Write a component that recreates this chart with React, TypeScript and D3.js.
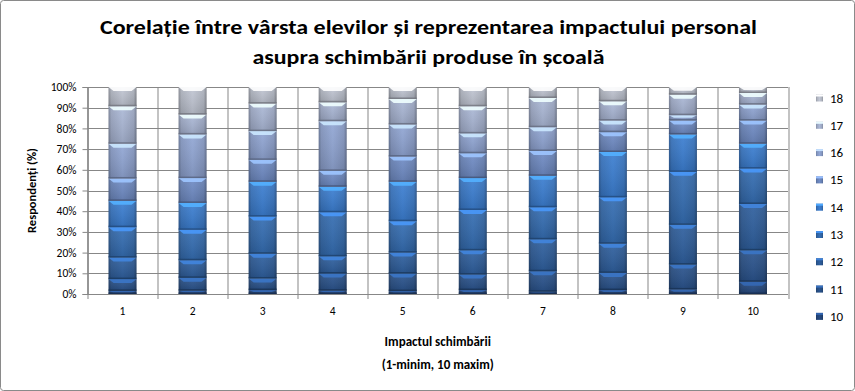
import React, { useEffect, useRef } from 'react';
import * as d3 from 'd3';

// impact levels (x axis)
const categories = ['1', '2', '3', '4', '5', '6', '7', '8', '9', '10'];
// pupils' age groups (stacked series, bottom to top)
const ages = ['10', '11', '12', '13', '14', '15', '16', '17', '18'];

// share of respondents per age, for impact 1..10 (%)
const age10 = [1.5, 1.6, 1.9, 1.6, 1.4, 1.9, 1.1, 1.9, 2.2, 5.9];
const age11 = [5.7, 6.2, 5.6, 8.3, 8.5, 7.5, 9.9, 8.3, 12, 15.2];
const age12 = [10.4, 8.5, 12, 8.3, 10.1, 11.7, 15.4, 14.1, 19.2, 22.4];
const age13 = [14.7, 14.7, 17.9, 21.3, 15.2, 19.5, 15.5, 22.4, 25.6, 17.1];
const age14 = [12.7, 13, 16.8, 12.3, 19, 15.4, 15.2, 21.9, 18.1, 12];
const age15 = [10.8, 12, 10.6, 7.7, 12.2, 12, 12, 9.6, 6.7, 11.2];
const age16 = [16.8, 21.1, 13.9, 24, 15.5, 9.6, 11.5, 5.6, 2.6, 7.7];
const age17 = [18.1, 9.6, 13.3, 9.1, 12.3, 13.1, 14.1, 9.3, 9.9, 5.6];
const age18 = [9.3, 13.3, 8, 7.4, 5.8, 9.3, 5.3, 6.9, 3.7, 2.9];

const seriesValues = [age10, age11, age12, age13, age14, age15, age16, age17, age18];

const colors = ['#23467a', '#284f86', '#2c5a96', '#3167a9', '#3877c6', '#6a85bb', '#899dc9', '#a2aecb', '#b7bcc8'];

const App = () => {
  const ref = useRef<SVGSVGElement>(null);

  useEffect(() => {
    const width = 855;
    const height = 391;
    const margin = { top: 87, left: 87.5, right: 67, bottom: 97 };
    const innerW = width - margin.left - margin.right;
    const innerH = height - margin.top - margin.bottom;

    const rows = categories.map((c, i) => {
      const r: any = { cat: c };
      ages.forEach((a, j) => { r[a] = seriesValues[j][i]; });
      return r;
    });
    const stacked = d3.stack<any>().keys(ages).offset(d3.stackOffsetExpand)(rows);

    const x = d3.scaleBand().domain(categories).range([0, innerW]).paddingInner(0.6).paddingOuter(0.3);
    const y = d3.scaleLinear().domain([0, 1]).range([innerH, 0]);

    const svg = d3.select(ref.current);
    svg.selectAll('*').remove();
    svg.attr('width', width).attr('height', height);

    const defs = svg.append('defs');
    colors.forEach((c, i) => {
      const base = d3.color(c)!;
      const g = defs.append('linearGradient').attr('id', 'grad' + i).attr('x1', 0).attr('x2', 1).attr('y1', 0).attr('y2', 0);
      g.append('stop').attr('offset', '0%').attr('stop-color', base.darker(0.9).toString());
      g.append('stop').attr('offset', '10%').attr('stop-color', base.darker(0.2).toString());
      g.append('stop').attr('offset', '50%').attr('stop-color', base.brighter(0.15).toString());
      g.append('stop').attr('offset', '90%').attr('stop-color', base.darker(0.2).toString());
      g.append('stop').attr('offset', '100%').attr('stop-color', base.darker(1.1).toString());
    });
    const vg = defs.append('linearGradient').attr('id', 'shade').attr('x1', 0).attr('x2', 0).attr('y1', 0).attr('y2', 1);
    vg.append('stop').attr('offset', '0%').attr('stop-color', '#fff').attr('stop-opacity', 0.08);
    vg.append('stop').attr('offset', '100%').attr('stop-color', '#000').attr('stop-opacity', 0.12);

    // chart border
    svg.append('rect').attr('x', 0.5).attr('y', 0.5).attr('width', width - 1).attr('height', height - 1)
      .attr('rx', 3).attr('fill', '#fff').attr('stroke', '#8a8a8a');

    // title
    const title = svg.append('g').attr('font-family', 'Carlito, "Liberation Sans Narrow", "Liberation Sans", sans-serif')
      .attr('font-weight', 'bold').attr('font-size', 21).attr('text-anchor', 'middle').attr('fill', '#000');
    title.append('text').attr('x', 428.5).attr('y', 34).attr('textLength', 657).attr('lengthAdjust', 'spacingAndGlyphs')
      .text('Corelație între vârsta elevilor și reprezentarea impactului personal');
    title.append('text').attr('x', 428.5).attr('y', 64).attr('textLength', 352).attr('lengthAdjust', 'spacingAndGlyphs')
      .text('asupra schimbării produse în școală');

    const g = svg.append('g').attr('transform', `translate(${margin.left},${margin.top})`);

    // horizontal gridlines
    const ticks = d3.range(0, 1.0001, 0.1);
    g.append('g').selectAll('line').data(ticks).enter().append('line')
      .attr('x1', 0).attr('x2', innerW).attr('y1', d => Math.round(y(d)) + 0.5).attr('y2', d => Math.round(y(d)) + 0.5)
      .attr('stroke', '#878787');
    // vertical gridlines at category boundaries
    const bounds = d3.range(0, categories.length + 1).map(i => i * x.step());
    g.append('g').selectAll('line').data(bounds).enter().append('line')
      .attr('x1', d => Math.round(d) + 0.5).attr('x2', d => Math.round(d) + 0.5).attr('y1', 0).attr('y2', innerH + 5)
      .attr('stroke', '#878787');

    // y axis
    const yAxis = g.append('g').call(d3.axisLeft(y).tickValues(ticks).tickFormat(d3.format('.0%')).tickSize(5).tickPadding(6))
      .attr('font-family', 'Carlito, "Liberation Sans", sans-serif').attr('font-size', 11.5);
    yAxis.select('.domain').attr('stroke', '#878787');
    yAxis.selectAll('.tick line').attr('stroke', '#878787');
    yAxis.selectAll('.tick text').attr('fill', '#000').attr('x', -11);

    // x axis labels
    g.append('g').selectAll('text').data(categories).enter().append('text')
      .attr('x', d => x(d)! + x.bandwidth() / 2).attr('y', innerH + 21)
      .attr('text-anchor', 'middle').attr('font-family', 'Carlito, "Liberation Sans", sans-serif').attr('font-size', 11.5)
      .text(d => d);

    // bars
    const layers = g.append('g').selectAll('g').data(stacked).enter().append('g');
    layers.each(function (layer, i) {
      const lg = d3.select(this);
      const segs = lg.selectAll('g').data(layer).enter().append('g');
      segs.append('rect')
        .attr('x', d => x(d.data.cat)!)
        .attr('y', d => y(d[1]))
        .attr('width', x.bandwidth())
        .attr('height', d => Math.max(0, y(d[0]) - y(d[1])))
        .attr('fill', `url(#grad${i})`);
      segs.append('rect')
        .attr('x', d => x(d.data.cat)!)
        .attr('y', d => y(d[1]))
        .attr('width', x.bandwidth())
        .attr('height', d => Math.max(0, y(d[0]) - y(d[1])))
        .attr('fill', 'url(#shade)');
      // top bevel highlight
      segs.append('path')
        .attr('d', d => {
          const x0 = x(d.data.cat)!;
          const w = x.bandwidth();
          const t = y(d[1]);
          const h = Math.min(4, (y(d[0]) - y(d[1])) / 2);
          return `M${x0},${t}L${x0 + w},${t}L${x0 + w - 5},${t + h}L${x0 + 5},${t + h}Z`;
        })
        .attr('fill', d3.color(colors[i])!.brighter(1.1).toString()).attr('opacity', 0.9);
      // bottom dark edge
      segs.append('rect')
        .attr('x', d => x(d.data.cat)!)
        .attr('y', d => y(d[0]) - 1.5)
        .attr('width', x.bandwidth())
        .attr('height', d => Math.min(1.5, y(d[0]) - y(d[1])))
        .attr('fill', d3.color(colors[i])!.darker(1.3).toString()).attr('opacity', 0.8);
    });

    // axes lines on top
    g.append('line').attr('x1', 0).attr('x2', innerW).attr('y1', innerH + 0.5).attr('y2', innerH + 0.5).attr('stroke', '#878787');
    g.append('line').attr('x1', 0.5).attr('x2', 0.5).attr('y1', 0).attr('y2', innerH).attr('stroke', '#878787');

    // axis titles
    svg.append('text').attr('transform', `translate(36,${margin.top + innerH / 2}) rotate(-90)`)
      .attr('text-anchor', 'middle').attr('font-family', 'Carlito, "Liberation Sans", sans-serif').attr('font-weight', 'bold')
      .attr('font-size', 12.5).text('Respondenți (%)');
    const xt = svg.append('g').attr('font-family', 'Carlito, "Liberation Sans", sans-serif').attr('font-weight', 'bold')
      .attr('font-size', 13).attr('text-anchor', 'middle');
    xt.append('text').attr('x', margin.left + innerW / 2).attr('y', 346).text('Impactul schimbării');
    xt.append('text').attr('x', margin.left + innerW / 2).attr('y', 369).text('(1-minim, 10 maxim)');

    // legend
    const legend = svg.append('g').attr('font-family', 'Carlito, "Liberation Sans", sans-serif').attr('font-size', 13);
    const items = legend.selectAll('g').data(ages.slice().reverse()).enter().append('g')
      .attr('transform', (d, i) => `translate(816,${98 + i * 27.3})`);
    items.append('rect').attr('x', 0).attr('y', -3.5).attr('width', 7).attr('height', 7)
      .attr('fill', d => `url(#grad${ages.indexOf(d)})`);
    items.append('rect').attr('x', 0).attr('y', -3.5).attr('width', 7).attr('height', 2)
      .attr('fill', d => d3.color(colors[ages.indexOf(d)])!.brighter(1).toString());
    items.append('text').attr('x', 14).attr('y', 4.5).text(d => d);
  }, []);

  return (
    <div style={{ position: 'absolute', left: 0, top: 0 }}>
      <svg ref={ref}></svg>
    </div>
  );
};

export default App;
